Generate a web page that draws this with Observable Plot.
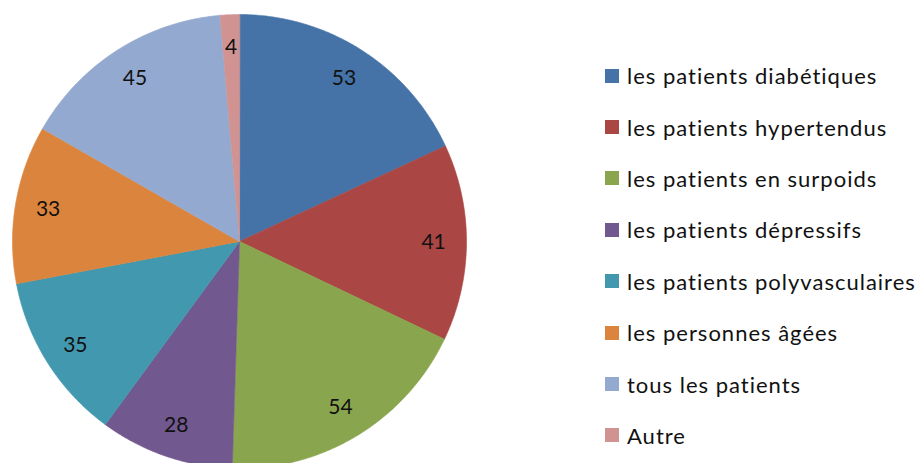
<!DOCTYPE html>
<html>
<head>
<meta charset="utf-8">
<script src="https://cdn.jsdelivr.net/npm/d3@7"></script>
<script src="https://cdn.jsdelivr.net/npm/@observablehq/plot@0.6"></script>
<style>
  html, body { margin: 0; padding: 0; background: #fff; }
  #wrap { position: relative; width: 924px; height: 463px; overflow: hidden; }
  #legend { position: absolute; left: 605px; top: 50px; font-family: Lato, "Open Sans", sans-serif; font-size: 22px; letter-spacing: 1px; color: #111; white-space: nowrap; }
  .item { display: flex; align-items: center; height: 51.4px; }
  .sw { width: 14px; height: 14px; margin-right: 8px; flex: none; }
</style>
</head>
<body>
<div id="wrap"><div id="legend"></div></div>
<script>
const categories = ["les patients diabétiques", "les patients hypertendus", "les patients en surpoids", "les patients dépressifs", "les patients polyvasculaires", "les personnes âgées", "tous les patients", "Autre"];
const values = [53, 41, 54, 28, 35, 33, 45, 4];
const colors = ["#4572A7", "#AA4643", "#89A54E", "#71588F", "#4198AF", "#DB843D", "#93A9CF", "#D19392"];

const data = categories.map((c, i) => ({category: c, value: values[i], color: colors[i]}));
const arcs = d3.pie().sort(null).value(d => d.value).startAngle(0).endAngle(2 * Math.PI)(data);

// Slice outlines in unit coordinates (angle measured clockwise from 12 o'clock)
const marks = [];
arcs.forEach(a => {
  const pts = [{x: 0, y: 0}];
  const n = Math.max(4, Math.ceil((a.endAngle - a.startAngle) / 0.01));
  for (let k = 0; k <= n; k++) {
    const t = a.startAngle + (a.endAngle - a.startAngle) * k / n;
    pts.push({x: Math.sin(t), y: Math.cos(t)});
  }
  marks.push(Plot.line(pts, {x: "x", y: "y", curve: "linear-closed", fill: a.data.color, stroke: a.data.color, strokeWidth: 0.6}));
});
const labels = arcs.map(a => {
  const m = (a.startAngle + a.endAngle) / 2;
  return {x: 0.855 * Math.sin(m), y: 0.855 * Math.cos(m), label: String(a.data.value)};
});
marks.push(Plot.text(labels, {x: "x", y: "y", text: "label", fontSize: 21, fill: "#111", fontFamily: "Lato, 'Open Sans', sans-serif"}));

const chart = Plot.plot({
  width: 924,
  height: 463,
  margin: 0,
  x: {domain: [-1, 1], range: [12, 466], axis: null},
  y: {domain: [-1, 1], range: [468, 14], axis: null},
  marks
});
chart.style.position = "absolute";
chart.style.left = "0";
chart.style.top = "0";
document.getElementById("wrap").prepend(chart);

const legend = document.getElementById("legend");
data.forEach(d => {
  const item = document.createElement("div");
  item.className = "item";
  const sw = document.createElement("div");
  sw.className = "sw";
  sw.style.background = d.color;
  const tx = document.createElement("span");
  tx.textContent = d.category;
  item.appendChild(sw);
  item.appendChild(tx);
  legend.appendChild(item);
});
</script>
</body>
</html>
